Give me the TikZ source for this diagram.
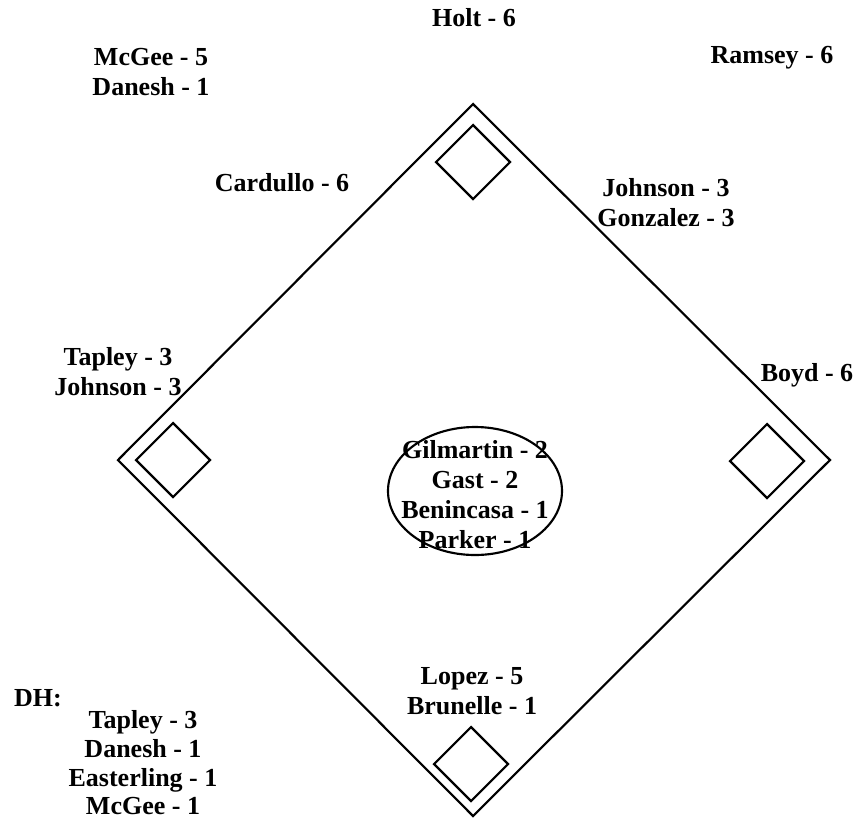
\documentclass[tikz,border=0pt]{standalone}
\usepackage{fontspec}
\setmainfont{Liberation Serif}
\begin{document}
\begin{tikzpicture}[x=0.75pt,y=-0.75pt,line width=1.6pt,
  lbl/.style={font=\bfseries\fontsize{19.5}{22.5}\selectfont,align=center,inner sep=0pt}]
  \useasboundingbox (0,0) rectangle (864,822);
  % infield (outer diamond)
  \draw (473,104) -- (830,460) -- (473,816) -- (118,460) -- cycle;
  % bases: second, third, first, home
  \foreach \cx/\cy in {473/162,173/460,767/461,471/764}
    \draw (\cx,\cy-37) -- ++(37,37) -- ++(-37,37) -- ++(-37,-37) -- cycle;
  % pitcher's mound
  \draw (475,491) ellipse [x radius=87, y radius=64];
  % outfield
  \node[lbl] (holt) at (474,18) {Holt - 6};
  \node[lbl] (leftfield) at (151,72) {McGee - 5\\Danesh - 1};
  \node[lbl] (ramsey) at (772,58) {Ramsey - 6};
  % infield positions
  \node[lbl] (cardullo) at (282,183) {Cardullo - 6};
  \node[lbl] (secondbase) at (666,203) {Johnson - 3\\Gonzalez - 3};
  \node[lbl] (thirdbase) at (118,372) {Tapley - 3\\Johnson - 3};
  \node[lbl] (boyd) at (807,375) {Boyd - 6};
  % pitchers
  \node[lbl] (mound) at (475,495) {Gilmartin - 2\\Gast - 2\\Benincasa - 1\\Parker - 1};
  % catchers
  \node[lbl] (catcher) at (472,691) {Lopez - 5\\Brunelle - 1};
  % designated hitters
  \node[lbl] (dh) at (38,698) {DH:};
  \node[lbl,font=\bfseries\fontsize{19.5}{21.5}\selectfont] (dhlist) at (143,763)
    {Tapley - 3\\Danesh - 1\\Easterling - 1\\McGee - 1};
\end{tikzpicture}
\end{document}
